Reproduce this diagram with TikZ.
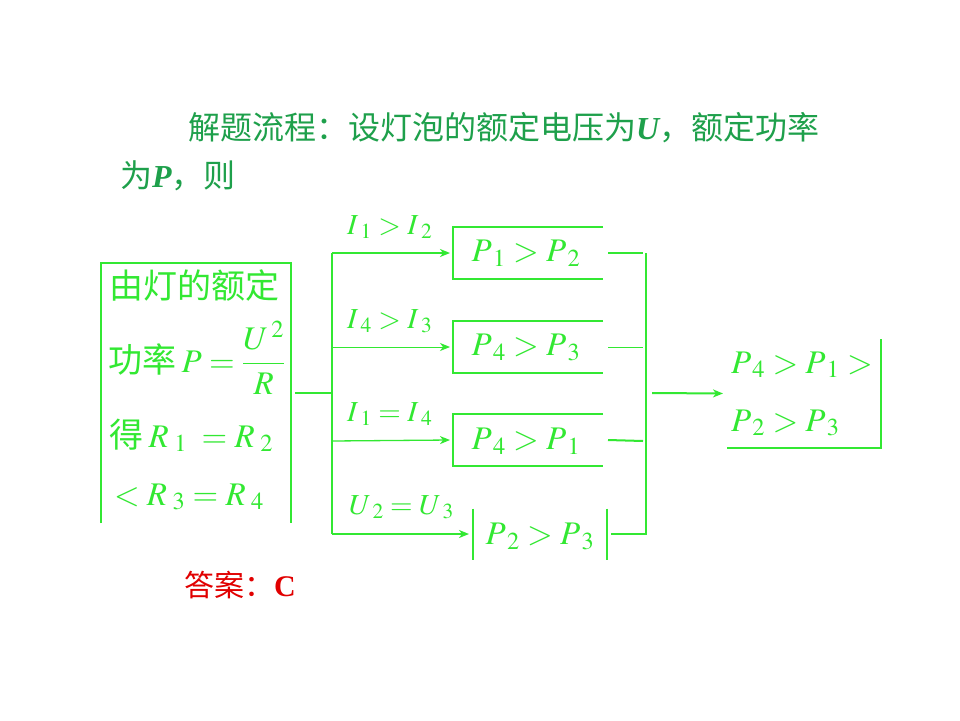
\documentclass[tikz,border=0pt]{standalone}
\usepackage{mathptmx}
\usepackage{fontspec}
\setmainfont{Liberation Serif}
\newfontfamily\cjk{Noto Sans CJK SC}
\usetikzlibrary{arrows.meta}
\definecolor{titlegreen}{RGB}{30,160,75}
\definecolor{lg}{RGB}{50,232,50}
\definecolor{ansred}{RGB}{225,0,0}
\newcommand\lowsub[1]{_{\mkern4mu #1}}
\begin{document}
\begin{tikzpicture}[x=1pt,y=-1pt,
  every node/.style={inner sep=0pt, outer sep=0pt},
  ttl/.style={text=titlegreen, font=\cjk\fontsize{32}{36}\selectfont},
  boxtxt/.style={text=lg, font=\cjk\fontsize{34}{38}\selectfont},
  mth/.style={text=lg, font=\fontsize{33}{38}\selectfont},
  lbl/.style={text=lg, font=\fontsize{29}{34}\selectfont},
  ln/.style={draw=lg, line width=1.6pt},
  arr/.style={ln, -{Stealth[length=10pt,width=8pt,inset=3pt]}}
]
\useasboundingbox[fill=white] (0,0) rectangle (960,720);

% title
\node[ttl, anchor=west] (t1) at (188,128) {解题流程：设灯泡的额定电压为{\rmfamily\bfseries\itshape U}，额定功率};
\node[ttl, anchor=west] (t2) at (120,176) {为{\rmfamily\bfseries\itshape P}，则};

% left box
\node[minimum width=190pt, minimum height=260pt] (lbox) at (196,393) {};
\draw[ln] (lbox.south west) -- (lbox.north west) -- (lbox.north east) -- (lbox.south east);
\node[boxtxt, anchor=base west] (lt1) at (109,298) {由灯的额定};
\node[boxtxt, anchor=base west] (lt2) at (108,372) {功率\,{\fontsize{33}{38}\selectfont$P=\displaystyle\frac{U^{\mkern2mu 2}}{R}$}};
\node[boxtxt, anchor=base west] (lt3) at (109,447) {得\,{\fontsize{33}{38}\selectfont$R\lowsub1\ =R\lowsub2$}};
\node[mth, anchor=base west] (lt4) at (114,505) {$<R\lowsub3=R\lowsub4$};

% junction line
\coordinate (s1) at (332,253);
\coordinate (s2) at (332,347);
\coordinate (s3) at (332,441);
\coordinate (s4) at (332,534);
\coordinate (jL) at (332,393);
\draw[ln] ([xshift=4pt]lbox.east) -- (jL);
\draw[ln] (s1) -- (s4);

% boxes
\node[minimum width=150pt, minimum height=52pt] (b1) at (528,253) {};
\node[minimum width=150pt, minimum height=52pt] (b2) at (528,347) {};
\node[minimum width=150pt, minimum height=52pt] (b3) at (528,440) {};
\node[minimum width=134pt, minimum height=51pt] (b4) at (540,534) {};
\node[mth] (bt1) at (526,253) {$P\lowsub1>P\lowsub2$};
\node[mth] (bt2) at (526,347) {$P\lowsub4>P\lowsub3$};
\node[mth] (bt3) at (526,441) {$P\lowsub4>P\lowsub1$};
\node[mth] (bt4) at (540,536) {$P\lowsub2>P\lowsub3$};
\draw[ln] (b1.north east) -- (b1.north west) -- (b1.south west) -- (b1.south east);
\draw[ln, line width=2.4pt] (b2.north east) -- (b2.north west) -- (b2.south west) -- (b2.south east);
\draw[ln] (b3.north east) -- (b3.north west) -- (b3.south west) -- (b3.south east);
\draw[ln] (b4.north west) -- (b4.south west);
\draw[ln] (b4.north east) -- (b4.south east);

% arrows with labels
\draw[arr, line width=2pt] (s1) -- ([xshift=-3pt]b1.west);
\draw[arr, line width=1pt] (s2) -- ([xshift=-3pt]b2.west);
\draw[arr, line width=1.3pt] (s3) -- ([xshift=-3pt]b3.west);
\draw[arr, line width=2pt] (s4) -- ([xshift=-4pt]b4.west);
\node[lbl, anchor=base west] (l1) at (347,234) {$I\lowsub1>I\lowsub2$};
\node[lbl, anchor=base west] (l2) at (347,328) {$I\lowsub4>I\lowsub3$};
\node[lbl, anchor=base west] (l3) at (347,421) {$I\lowsub1=I\lowsub4$};
\node[lbl, anchor=base west] (l4) at (349,514) {$U\lowsub2=U\lowsub3$};

% right collector
\coordinate (r1) at (643,253);
\coordinate (r2) at (643,347);
\coordinate (r3) at (643,441);
\coordinate (rt) at (646,253);
\coordinate (rb) at (646,534);
\coordinate (jR) at (652,393);
\draw[ln, line width=2pt] ([xshift=5pt]b1.east) -- (r1);
\draw[ln, line width=0.9pt] ([xshift=5pt]b2.east) -- (r2);
\draw[ln, line width=2pt] ([xshift=5pt]b3.east) -- (r3);
\draw[ln] ([xshift=4pt]b4.east) -- (rb) -- (rt);

% result
\node[minimum width=154pt, minimum height=109pt] (res) at (804,393.5) {};
\draw[ln] (res.north east) -- (res.south east) -- (res.south west);
\draw[arr, line width=2pt] (jR) -- ([xshift=-4pt]res.west);
\node[mth, anchor=base west] (rt1) at (731,373) {$P\lowsub4>P\lowsub1>$};
\node[mth, anchor=base west] (rt2) at (731,431) {$P\lowsub2>P\lowsub3$};

% answer
\node[text=ansred, font=\cjk\fontsize{30}{36}\selectfont, anchor=west] (ans) at (184,585) {答案：{\rmfamily\bfseries C}};
\end{tikzpicture}
\end{document}
